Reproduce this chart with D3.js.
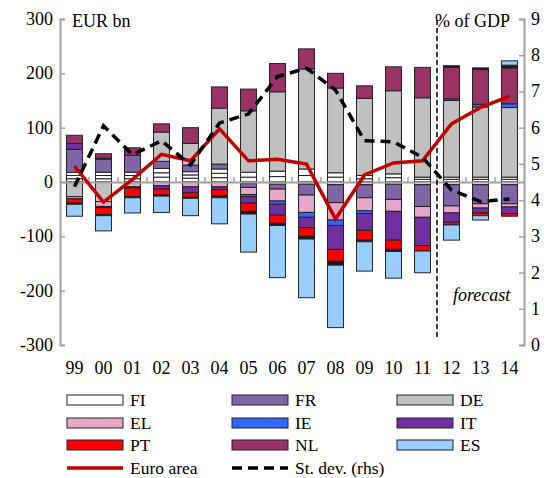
<!DOCTYPE html>
<html>
<head>
<meta charset="utf-8">
<script src="https://cdn.jsdelivr.net/npm/d3@7"></script>
<style>
  body { margin: 0; background: #fff; }
  text { font-family: "Liberation Serif", "Times New Roman", serif; }
</style>
</head>
<body>
<div id="chart"></div>
<script>
const years = ["99","00","01","02","03","04","05","06","07","08","09","10","11","12","13","14"];

// country contributions, EUR bn
const FI  = [6, 6, 6, 9, 7, 8, 9, 10, 12, 9, 6, 8, 5, 5, 5, 5];
const AT  = [6, 6, 6, 8, 6, 8, 9, 10, 12, 8, 6, 7, 4, 4, 4, 4];
const BE  = [6, 6, 6, 8, 6, 8, -3, -4, -4, -5, -5, -4, -5, -5, -5, -5];
const FR  = [42, 24, 31, 13, 12, 9, -7, -9, -20, -33, -24, -28, -40, -39, -35, -35];
const DE  = [-27, -36, 0, 54, 40, 103, 113, 146, 184, 156, 142, 153, 146, 141, 129, 128];
const EL  = [-4, -9, -9, -7, -9, -9, -13, -22, -32, -32, -24, -22, -20, -13, -8, -6];
const IE  = [0, -2, -2, 0, 0, 0, -4, -6, -9, -10, -5, 0, 0, 3, 5, 7];
const IT  = [11, 2, 0, -6, -11, -5, -12, -20, -19, -44, -31, -53, -52, -17, -9, -12];
const PT  = [-8, -13, -16, -11, -8, -12, -15, -15, -16, -22, -18, -17, -10, -5, -5, -5];
const NL  = [15, 8, 14, 15, 29, 39, 40, 52, 37, 27, 23, 44, 56, 58, 64, 66];
const OTH = [-2, -2, -2, -2, -2, -3, -5, -4, -5, -7, -3, -4, 0, 3, 3, 5];
const ES  = [-22, -28, -28, -30, -32, -48, -70, -96, -108, -115, -54, -49, -40, -28, -8, 8];

const euroArea = [29, -37, 5, 51, 39, 98, 39, 42, 33, -68, 13, 35, 39, 107, 137, 158];
const stDev = [4.37, 6.05, 5.25, 5.64, 4.97, 6.13, 6.38, 7.41, 7.64, 7.04, 5.64, 5.61, 5.18, 4.28, 3.96, 4.03];

const leftTicks = [-300, -200, -100, 0, 100, 200, 300];
const rightTicks = [0, 1, 2, 3, 4, 5, 6, 7, 8, 9];

const seriesDefs = [
  { key: "FI", values: FI, color: "#ffffff" },
  { key: "AT", values: AT, color: "#ffffff" },
  { key: "BE", values: BE, color: "#ffffff" },
  { key: "FR", values: FR, color: "#7f66a6" },
  { key: "DE", values: DE, color: "#c0c0c0" },
  { key: "EL", values: EL, color: "#e6a6c6" },
  { key: "IE", values: IE, color: "#3366ff" },
  { key: "IT", values: IT, color: "#7030a0" },
  { key: "PT", values: PT, color: "#ff0000" },
  { key: "NL", values: NL, color: "#993366" },
  { key: "OTH", values: OTH, color: "#1a1a1a" },
  { key: "ES", values: ES, color: "#99ccff" },
];

const legendItems = [
  { label: "FI", color: "#ffffff" }, { label: "FR", color: "#7f66a6" }, { label: "DE", color: "#c0c0c0" },
  { label: "EL", color: "#e6a6c6" }, { label: "IE", color: "#3366ff" }, { label: "IT", color: "#7030a0" },
  { label: "PT", color: "#ff0000" }, { label: "NL", color: "#993366" }, { label: "ES", color: "#99ccff" },
];

const W = 548, H = 478;
const plotL = 60, plotR = 524, plotT = 19, plotB = 345;

const svg = d3.select("#chart").append("svg")
  .attr("width", W).attr("height", H);

const x = d3.scaleBand().domain(years).range([plotL, plotR])
  .paddingInner(0.45).paddingOuter(0.225);
const y = d3.scaleLinear().domain([-300, 300]).range([plotB, plotT]);
const y2 = d3.scaleLinear().domain([0, 9]).range([plotB, plotT]);

// table for the stack
const table = years.map((yr, i) => {
  const row = { year: yr };
  seriesDefs.forEach(s => { row[s.key] = s.values[i]; });
  return row;
});

const stack = d3.stack()
  .keys(seriesDefs.map(s => s.key))
  .offset(d3.stackOffsetDiverging);
const stacked = stack(table);

const colorOf = {};
seriesDefs.forEach(s => { colorOf[s.key] = s.color; });

// bars
svg.append("g")
  .selectAll("g")
  .data(stacked)
  .join("g")
  .attr("fill", d => colorOf[d.key])
  .selectAll("rect")
  .data(d => d.filter(p => p[1] - p[0] !== 0))
  .join("rect")
  .attr("x", d => x(d.data.year))
  .attr("width", x.bandwidth())
  .attr("y", d => y(Math.max(d[0], d[1])))
  .attr("height", d => Math.abs(y(d[0]) - y(d[1])))
  .attr("stroke", "#222")
  .attr("stroke-width", 1);

// axes
const axisColor = "#a0a0a0";
const leftAxis = svg.append("g")
  .attr("transform", `translate(${plotL},0)`)
  .call(d3.axisRight(y).tickValues(leftTicks).tickSize(5).tickFormat(""));
const rightAxis = svg.append("g")
  .attr("transform", `translate(${plotR},0)`)
  .call(d3.axisLeft(y2).tickValues(rightTicks).tickSize(5).tickFormat(""));
[leftAxis, rightAxis].forEach(g => {
  g.select(".domain").attr("stroke", axisColor).attr("stroke-width", 2);
  g.selectAll(".tick line").attr("stroke", axisColor).attr("stroke-width", 1.5);
});

// zero line with category ticks
const xAxis = svg.append("g")
  .attr("transform", `translate(0,${y(0)})`)
  .call(d3.axisTop(x).tickSize(0).tickFormat(""));
xAxis.select(".domain").attr("stroke", axisColor).attr("stroke-width", 2);
xAxis.selectAll(".tick").remove();
svg.append("g")
  .selectAll("line")
  .data(years.slice(1))
  .join("line")
  .attr("x1", d => x(d) - x.step() * x.paddingInner() / 2)
  .attr("x2", d => x(d) - x.step() * x.paddingInner() / 2)
  .attr("y1", y(0))
  .attr("y2", y(0) - 5)
  .attr("stroke", axisColor)
  .attr("stroke-width", 1.5);

// tick labels
svg.append("g").selectAll("text")
  .data(leftTicks).join("text")
  .attr("x", 53).attr("y", d => y(d) + 6)
  .attr("text-anchor", "end").attr("font-size", 18).text(d => d);
svg.append("g").selectAll("text")
  .data(rightTicks).join("text")
  .attr("x", 531).attr("y", d => y2(d) + 6)
  .attr("font-size", 18).text(d => d);
svg.append("g").selectAll("text")
  .data(years).join("text")
  .attr("x", d => x(d) + x.bandwidth() / 2).attr("y", 374)
  .attr("text-anchor", "middle").attr("font-size", 18).text(d => d);

svg.append("text").attr("x", 72).attr("y", 27).attr("font-size", 18).text("EUR bn");
svg.append("text").attr("x", 435).attr("y", 27).attr("font-size", 18).text("% of GDP");
svg.append("text").attr("x", 453).attr("y", 301).attr("font-size", 18)
  .attr("font-style", "italic").text("forecast");

// forecast divider
const divX = x("12") - x.step() * x.paddingInner() / 2;
svg.append("line")
  .attr("x1", divX).attr("x2", divX)
  .attr("y1", 20).attr("y2", 338)
  .attr("stroke", "#000").attr("stroke-width", 1.5)
  .attr("stroke-dasharray", "5,3");

// lines
const cx = d => x(d) + x.bandwidth() / 2;
svg.append("path")
  .datum(years.map((yr, i) => [cx(yr), y(euroArea[i])]))
  .attr("fill", "none").attr("stroke", "#c00000").attr("stroke-width", 3.5)
  .attr("d", d3.line());
svg.append("path")
  .datum(years.map((yr, i) => [cx(yr), y2(stDev[i])]))
  .attr("fill", "none").attr("stroke", "#000").attr("stroke-width", 3.5)
  .attr("stroke-dasharray", "10,6")
  .attr("d", d3.line());

// legend
const colX = [67, 232, 397];
const rowY = [400, 423, 445, 468];
const legend = svg.append("g");
legendItems.forEach((it, i) => {
  const lx = colX[i % 3], ly = rowY[Math.floor(i / 3)];
  legend.append("rect")
    .attr("x", lx).attr("y", ly - 5).attr("width", 56).attr("height", 10)
    .attr("fill", it.color).attr("stroke", "#222").attr("stroke-width", 1);
  legend.append("text").attr("x", lx + 63).attr("y", ly + 6)
    .attr("font-size", 17.5).text(it.label);
});
legend.append("line")
  .attr("x1", colX[0]).attr("x2", colX[0] + 56).attr("y1", rowY[3]).attr("y2", rowY[3])
  .attr("stroke", "#c00000").attr("stroke-width", 3.5);
legend.append("text").attr("x", colX[0] + 63).attr("y", rowY[3] + 6)
  .attr("font-size", 17.5).text("Euro area");
legend.append("line")
  .attr("x1", colX[1]).attr("x2", colX[1] + 56).attr("y1", rowY[3]).attr("y2", rowY[3])
  .attr("stroke", "#000").attr("stroke-width", 3.5).attr("stroke-dasharray", "10,6");
legend.append("text").attr("x", colX[1] + 63).attr("y", rowY[3] + 6)
  .attr("font-size", 17.5).text("St. dev. (rhs)");
</script>
</body>
</html>
